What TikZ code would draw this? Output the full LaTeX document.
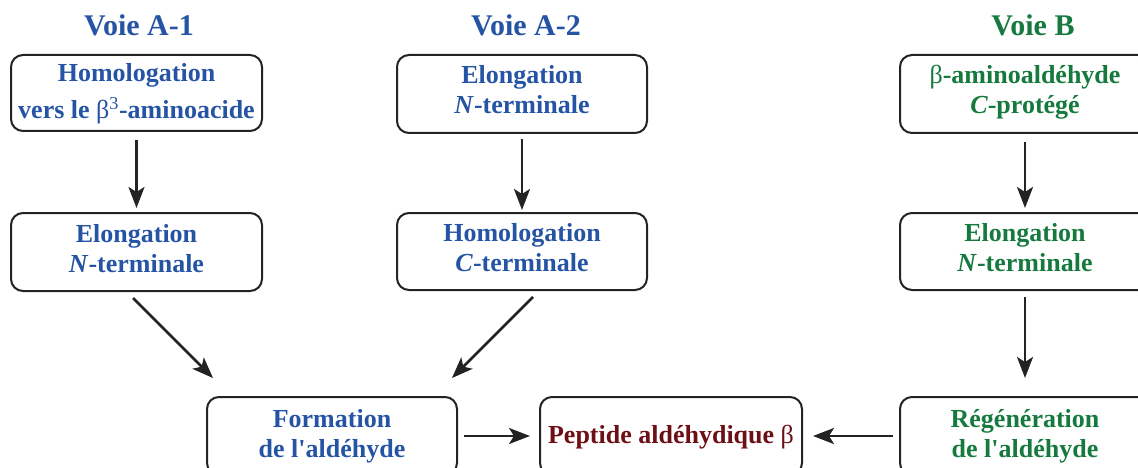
\documentclass[tikz,border=0pt]{standalone}
\usepackage{fontspec}
\setmainfont{Liberation Serif}[Ligatures=TeXOff]
\usetikzlibrary{arrows.meta}
\definecolor{vblue}{RGB}{38,84,165}
\definecolor{vgreen}{RGB}{22,122,62}
\definecolor{vred}{RGB}{108,16,22}
\definecolor{lineg}{RGB}{35,35,35}
\begin{document}
\begin{tikzpicture}[x=1pt,y=-1pt,
  box/.style={draw=lineg, line width=2pt, rounded corners=12pt,
    minimum width=251pt, minimum height=78pt, inner sep=0pt, outer sep=0pt,
    align=center, font=\fontsize{26}{30}\selectfont\bfseries,
    text height=50pt, text depth=10pt},
  ttl/.style={font=\fontsize{30}{36}\selectfont\bfseries, anchor=base, inner sep=0pt},
  arr/.style={draw=lineg, line width=2.6pt, -{Stealth[length=21pt,width=16pt,inset=5pt]}}
]
\useasboundingbox (0,0) rectangle (1138,468);
\clip (0,0) rectangle (1138,468);

% titles
\node[ttl, text=vblue] (t1) at (139,36) {Voie A-1};
\node[ttl, text=vblue] (t2) at (526,36) {Voie A-2};
\node[ttl, text=vgreen] (t3) at (1033,36) {Voie B};

% boxes
\node[box, text=vblue, minimum height=76pt, font=\fontsize{26}{37}\selectfont\bfseries, text height=58pt, text depth=6pt] (a1top) at (136.5,93)
  {Homologation\\vers le {\mdseries β}\textsuperscript{\mdseries 3}-aminoacide};
\node[box, text=vblue] (a1mid) at (136.5,252) {Elongation\\\textit{N}-terminale};
\node[box, text=vblue, minimum width=250pt] (a2top) at (522,94) {Elongation\\\textit{N}-terminale};
\node[box, text=vblue, minimum width=250pt, minimum height=77pt] (a2mid) at (522,251.5) {Homologation\\\textit{C}-terminale};
\node[box, text=vgreen, minimum width=250pt] (btop) at (1025,94) {{\mdseries β}-aminoaldéhyde\\\textit{C}-protégé};
\node[box, text=vgreen, minimum width=250pt, minimum height=77pt] (bmid) at (1025,251.5) {Elongation\\\textit{N}-terminale};
\node[box, text=vblue, minimum width=250pt, text height=51pt, text depth=9pt] (form) at (332,436) {Formation\\de l'aldéhyde};
\node[box, text=vred, minimum width=262pt, text height=18pt, text depth=4pt] (pept) at (671,436) {Peptide aldéhydique {\mdseries β}};
\node[box, text=vgreen, minimum width=250pt, text height=51pt, text depth=9pt] (regen) at (1025,436) {Régénération\\de l'aldéhyde};

% free ends of the diagonal connectors
\coordinate (d1s) at (133,298);
\coordinate (d1e) at (213,378);
\coordinate (d2s) at (533,297);
\coordinate (d2e) at (452,378);

% connectors
\draw[arr, shorten <=9pt, shorten >=5pt] (a1top.south) -- (a1mid.north);
\draw[arr, shorten <=6pt, shorten >=3pt] (a2top.south) -- (a2mid.north);
\draw[arr, shorten <=9pt, shorten >=5pt] (btop.south) -- (bmid.north);
\draw[arr, shorten <=7pt, shorten >=19pt] (bmid.south) -- (regen.north);
\draw[arr] (d1s) -- (d1e);
\draw[arr] (d2s) -- (d2e);
\draw[arr, shorten <=7pt, shorten >=10pt] (form.east) -- (pept.west);
\draw[arr, shorten <=7pt, shorten >=11pt] (regen.west) -- (pept.east);
\end{tikzpicture}
\end{document}
